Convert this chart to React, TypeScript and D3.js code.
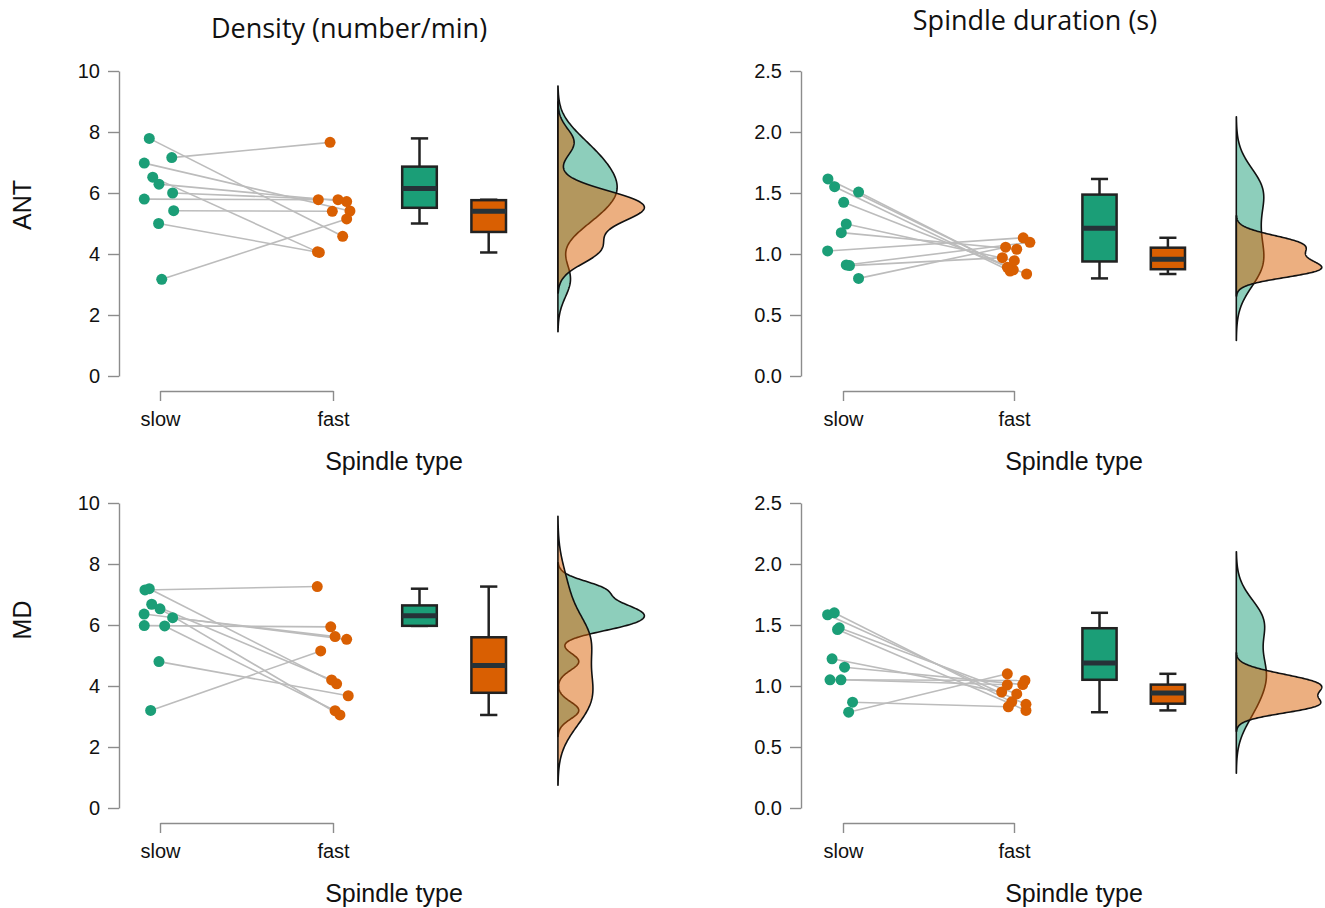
import React, { useEffect, useRef } from "react"
import * as d3 from "d3"

const W = 1325
const H = 908

const groups = ["slow", "fast"]
const rowLabels = ["ANT", "MD"]
const measureTitles = ["Density (number/min)", "Spindle duration (s)"]
const xTitle = "Spindle type"

const densityTicks = [0, 2, 4, 6, 8, 10]
const durationTicks = [0, 0.5, 1.0, 1.5, 2.0, 2.5]

// one value per subject, slow[i] is paired with fast[i]
// jitter is the horizontal offset of each dot, in category units
const antDensitySlow = [7.79, 7.16, 6.98, 6.52, 6.29, 6.0, 5.8, 5.42, 5.0, 3.17]
const antDensityFast = [4.58, 7.66, 5.41, 4.07, 5.72, 5.78, 5.78, 5.4, 4.05, 5.15]
const antDensitySlowJit = [-0.062, 0.068, -0.091, -0.042, -0.006, 0.073, -0.091, 0.079, -0.008, 0.01]
const antDensityFastJit = [0.056, -0.017, 0.098, -0.09, 0.079, 0.029, -0.085, -0.004, -0.079, 0.079]

const antDurationSlow = [1.615, 1.552, 1.508, 1.424, 1.246, 1.175, 1.025, 0.91, 0.905, 0.8]
const antDurationFast = [0.87, 0.86, 0.891, 0.836, 0.945, 1.039, 1.133, 1.096, 0.97, 1.056]
const antDurationSlowJit = [-0.088, -0.049, 0.091, 0.004, 0.019, -0.01, -0.09, 0.019, 0.038, 0.091]
const antDurationFastJit = [-0.004, -0.023, -0.039, 0.074, 0.002, 0.016, 0.054, 0.093, -0.068, -0.049]

const mdDensitySlow = [7.15, 7.19, 6.68, 6.53, 6.36, 6.24, 5.98, 5.97, 4.8, 3.2]
const mdDensityFast = [7.26, 4.07, 4.2, 3.05, 5.53, 5.62, 5.94, 3.19, 3.68, 5.15]
const mdDensitySlowJit = [-0.087, -0.062, -0.048, 0, -0.092, 0.073, -0.091, 0.027, -0.006, -0.054]
const mdDensityFastJit = [-0.091, 0.021, -0.008, 0.04, 0.079, 0.012, -0.013, 0.012, 0.088, -0.071]

const mdDurationSlow = [1.584, 1.6, 1.463, 1.477, 1.223, 1.154, 1.051, 1.051, 0.867, 0.785]
const mdDurationFast = [0.85, 0.87, 0.8, 0.935, 0.95, 1.012, 1.045, 1.01, 0.83, 1.1]
const mdDurationSlowJit = [-0.09, -0.051, -0.032, -0.022, -0.064, 0.009, -0.076, -0.012, 0.056, 0.033]
const mdDurationFastJit = [0.07, -0.013, 0.07, 0.016, -0.072, 0.051, 0.064, -0.039, -0.033, -0.039]

const green = "#1b9e77"
const orange = "#d95f02"

const panels = [
  { row: 0, col: 0, ticks: densityTicks, fmt: d3.format("d"), slow: antDensitySlow, fast: antDensityFast, slowJit: antDensitySlowJit, fastJit: antDensityFastJit },
  { row: 0, col: 1, ticks: durationTicks, fmt: d3.format(".1f"), slow: antDurationSlow, fast: antDurationFast, slowJit: antDurationSlowJit, fastJit: antDurationFastJit },
  { row: 1, col: 0, ticks: densityTicks, fmt: d3.format("d"), slow: mdDensitySlow, fast: mdDensityFast, slowJit: mdDensitySlowJit, fastJit: mdDensityFastJit },
  { row: 1, col: 1, ticks: durationTicks, fmt: d3.format(".1f"), slow: mdDurationSlow, fast: mdDurationFast, slowJit: mdDurationSlowJit, fastJit: mdDurationFastJit },
]

// layout (category units on the x scale: slow = 1, fast = 2)
const BOX_X = [2.5, 2.9]
const VIOLIN_X = 3.3
const BOX_W = 0.2
const CAP_W = 0.1
const VIOLIN_W = 0.5
const COL_DX = 682
const ROW_DY = 432
const xRanges = [[160, 333], [161, 332]]
const titleX = [349, 1035]
const titleY = [38, 30]
const xTitleX = [394, 1074]
const rowLabelY = [205, 620]

const tickFont = "'Liberation Sans', Arial, sans-serif"

// R's bw.nrd0
function nrd0(v: number[]) {
  const sd = d3.deviation(v) as number
  const iqr = (d3.quantile(v, 0.75) as number) - (d3.quantile(v, 0.25) as number)
  return 0.9 * Math.min(sd, iqr / 1.34) * Math.pow(v.length, -0.2)
}

function kde(v: number[]) {
  const bw = nrd0(v)
  const lo = (d3.min(v) as number) - 3 * bw
  const hi = (d3.max(v) as number) + 3 * bw
  const n = 256
  return d3.range(n).map(i => {
    const t = lo + ((hi - lo) * i) / (n - 1)
    const d = (d3.mean(v, x => Math.exp(-0.5 * ((t - x) / bw) ** 2)) as number) / (bw * Math.sqrt(2 * Math.PI))
    return [t, d] as [number, number]
  })
}

function boxStats(v: number[]) {
  const q1 = d3.quantile(v, 0.25) as number
  const med = d3.quantile(v, 0.5) as number
  const q3 = d3.quantile(v, 0.75) as number
  const iqr = q3 - q1
  const inside = v.filter(d => d >= q1 - 1.5 * iqr && d <= q3 + 1.5 * iqr)
  return { q1, med, q3, lo: d3.min(inside) as number, hi: d3.max(inside) as number }
}

function drawPanel(svg: any, p: any) {
  const g = svg.append("g").attr("transform", `translate(${p.col * COL_DX},${p.row * ROW_DY})`)
  const x = d3.scaleLinear().domain([1, 2]).range(xRanges[p.col])
  const y = d3.scaleLinear().domain([0, d3.max(p.ticks) as number]).range([376, 71])
  const unit = x(2) - x(1)

  const ya = g.append("g").attr("transform", "translate(119,0)")
    .call(d3.axisLeft(y).tickValues(p.ticks).tickFormat(p.fmt).tickSize(11).tickSizeOuter(0).tickPadding(8))
  const xa = g.append("g").attr("transform", "translate(0,391)")
    .call(d3.axisBottom(x).tickValues([1, 2]).tickFormat((d: any) => groups[d - 1]).tickSize(10).tickSizeOuter(0).tickPadding(11))
  ;[ya, xa].forEach(a => {
    a.select(".domain").attr("stroke", "#8c8c8c").attr("stroke-width", 1.4)
    a.selectAll(".tick line").attr("stroke", "#8c8c8c").attr("stroke-width", 1.4)
    a.selectAll(".tick text").attr("fill", "#111").style("font-family", tickFont).style("font-size", "20px")
  })

  // paired lines
  g.append("g").selectAll("line").data(p.slow).join("line")
    .attr("x1", (d: number, i: number) => x(1 + p.slowJit[i]))
    .attr("y1", (d: number) => y(d))
    .attr("x2", (d: number, i: number) => x(2 + p.fastJit[i]))
    .attr("y2", (d: number, i: number) => y(p.fast[i]))
    .attr("stroke", "#bcbcbc").attr("stroke-width", 1.6)

  g.append("g").selectAll("circle").data(p.slow).join("circle")
    .attr("cx", (d: number, i: number) => x(1 + p.slowJit[i]))
    .attr("cy", (d: number) => y(d))
    .attr("r", 5.5).attr("fill", green)
  g.append("g").selectAll("circle").data(p.fast).join("circle")
    .attr("cx", (d: number, i: number) => x(2 + p.fastJit[i]))
    .attr("cy", (d: number) => y(d))
    .attr("r", 5.5).attr("fill", orange)

  // box plots
  ;[p.slow, p.fast].forEach((vals: number[], k: number) => {
    const s = boxStats(vals)
    const cx = x(BOX_X[k])
    const hw = (BOX_W * unit) / 2
    const cw = (CAP_W * unit) / 2
    const bg = g.append("g").attr("stroke", "#222").attr("stroke-width", 2.5)
    bg.append("line").attr("x1", cx).attr("x2", cx).attr("y1", y(s.hi)).attr("y2", y(s.q3))
    bg.append("line").attr("x1", cx).attr("x2", cx).attr("y1", y(s.q1)).attr("y2", y(s.lo))
    bg.append("line").attr("x1", cx - cw).attr("x2", cx + cw).attr("y1", y(s.hi)).attr("y2", y(s.hi))
    bg.append("line").attr("x1", cx - cw).attr("x2", cx + cw).attr("y1", y(s.lo)).attr("y2", y(s.lo))
    bg.append("rect").attr("x", cx - hw).attr("width", hw * 2)
      .attr("y", y(s.q3)).attr("height", y(s.q1) - y(s.q3))
      .attr("fill", k === 0 ? green : orange)
    bg.append("line").attr("x1", cx - hw).attr("x2", cx + hw).attr("y1", y(s.med)).attr("y2", y(s.med))
      .attr("stroke", "#263238").attr("stroke-width", 5)
  })

  // half violins
  const curves = [kde(p.slow), kde(p.fast)]
  const maxD = d3.max(curves.flat(), d => d[1]) as number
  const area = d3.area<[number, number]>()
    .y(d => y(d[0]))
    .x0(x(VIOLIN_X))
    .x1(d => x(VIOLIN_X + (d[1] / maxD) * VIOLIN_W))
  curves.forEach((c, k) => {
    g.append("path").attr("d", area(c))
      .attr("fill", k === 0 ? green : orange).attr("fill-opacity", 0.5)
      .attr("stroke", "#111").attr("stroke-width", 1.6).attr("stroke-linejoin", "round")
  })

  g.append("text").attr("x", xTitleX[p.col] - p.col * COL_DX).attr("y", 470)
    .attr("text-anchor", "middle").attr("fill", "#111")
    .style("font-family", tickFont).style("font-size", "25px").text(xTitle)
}

export default function App() {
  const ref = useRef<SVGSVGElement>(null)
  useEffect(() => {
    const svg = d3.select(ref.current)
    svg.selectAll("*").remove()
    svg.append("rect").attr("width", W).attr("height", H).attr("fill", "white")

    panels.forEach(p => drawPanel(svg, p))

    measureTitles.forEach((t, i) => {
      svg.append("text").attr("x", titleX[i]).attr("y", titleY[i])
        .attr("text-anchor", "middle").attr("fill", "#111")
        .style("font-family", "'Open Sans', sans-serif").style("font-size", "27px").text(t)
    })
    rowLabels.forEach((t, i) => {
      svg.append("text").attr("transform", `translate(31,${rowLabelY[i]}) rotate(-90)`)
        .attr("text-anchor", "middle").attr("fill", "#111")
        .style("font-family", tickFont).style("font-size", "25px").text(t)
    })
  }, [])

  return <svg ref={ref} width={W} height={H} style={{ position: "absolute", left: 0, top: 0 }} />
}
